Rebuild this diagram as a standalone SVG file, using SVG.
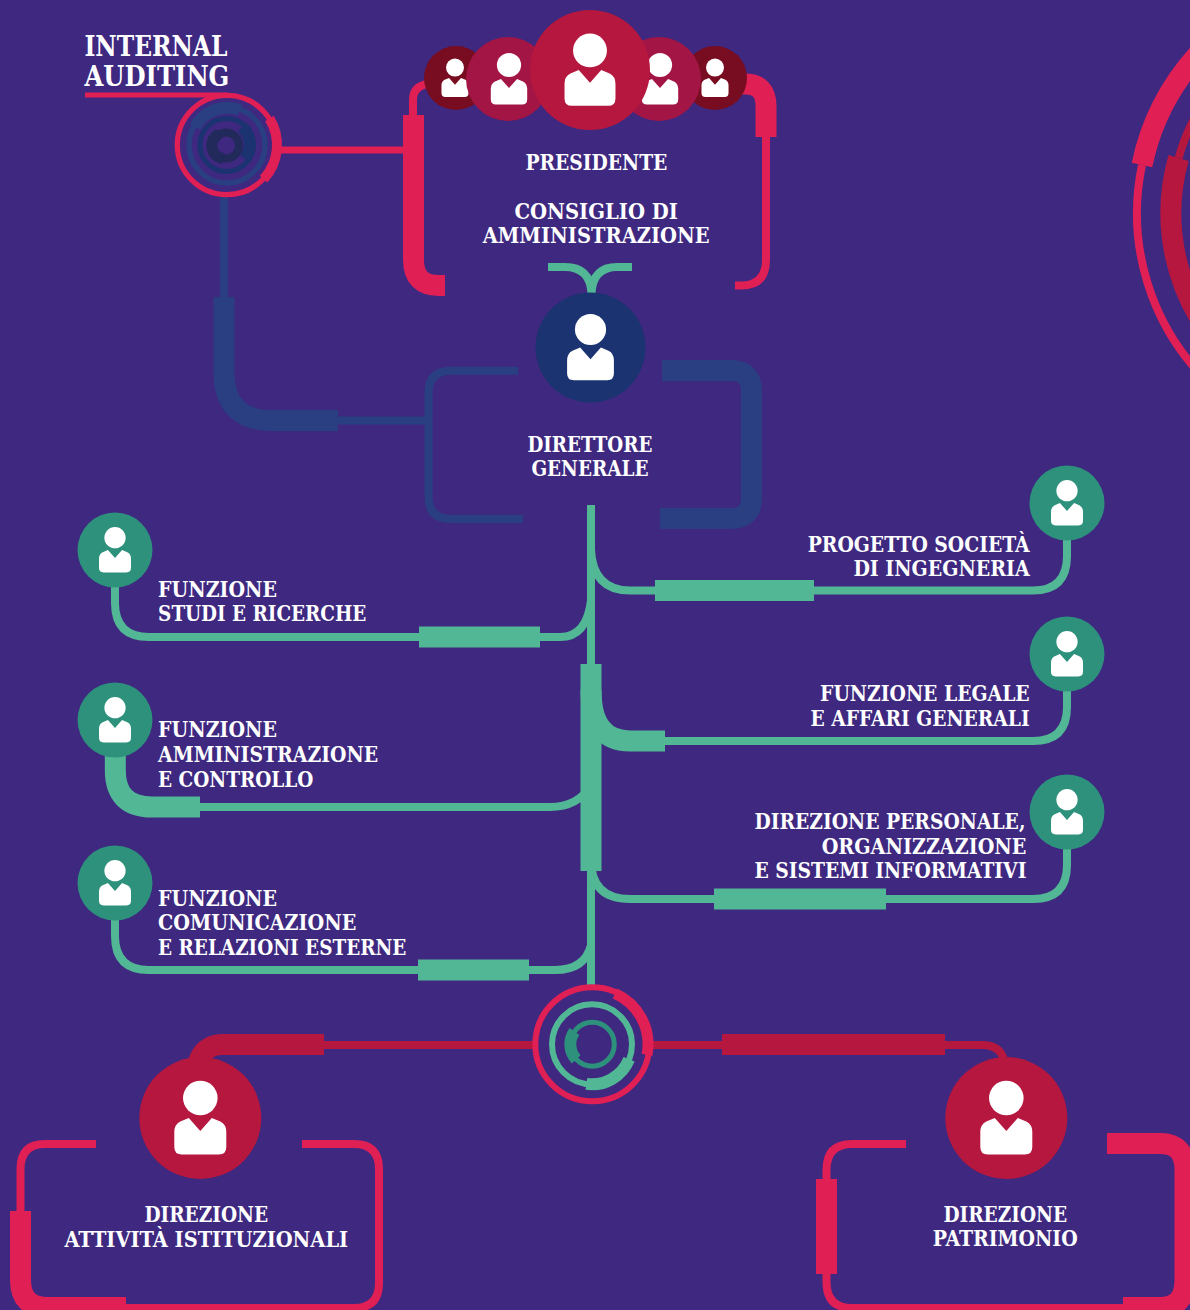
<svg xmlns="http://www.w3.org/2000/svg" width="1190" height="1310" viewBox="0 0 1190 1310">
<style>
.r{fill:none;stroke:#e01f55}
.c{fill:none;stroke:#b5173f}
.b{fill:none;stroke:#2a3f82}
.n{fill:none;stroke:#1b3370}
.g{fill:none;stroke:#52b795}
.t{fill:none;stroke:#2d917c}
.w8{stroke-width:8}
.w21{stroke-width:21}
text{font-family:"DejaVu Serif","Liberation Serif",serif;font-weight:700;font-stretch:condensed;font-size:22.5px;fill:#fff;transform:translate(-.6px,-.8px)}
</style>
<defs>
<g id="person" fill="#fff">
<circle cx="0" cy="-20" r="17.3"/>
<path d="M-11.5,0L0,13L11.5,0L20,3.5Q26,6.5 26,14V29Q26,36.5 18.500,36.500H-18.500Q-26,36.500 -26,29V14Q-26,6.500 -20,3.500Z"/>
</g>
</defs>
<rect width="1190" height="1310" fill="#3e2880"/>
<g id="decoration">
<path class="r w8" d="M1142,165A236,236 0 0 0 1209,383"/>
<path class="r w21" d="M1142,165A236,236 0 0 1 1200,52.500"/>
<path class="c w8" d="M1178.600,158A202,202 0 0 1 1218,83"/>
<path class="c w21" d="M1178.600,158A202,202 0 0 0 1218,343"/>
</g>
<g id="connectors">
<path class="r" stroke-width="5" d="M85,95H228"/>
<path class="r" stroke-width="7" d="M280,150H405"/>
<path class="r w8" d="M413,115V100Q413,86 428,84"/>
<path class="r w21" d="M413.500,115V260Q413.500,285.500 439,285.500H445"/>
<path class="r w21" d="M740,84H745Q766,84 766,106V137"/>
<path class="r w8" d="M766,137V260Q766,285.500 741,285.500H735"/>
<path class="g w8" d="M548,267H565Q590,267 591.500,293M632,267H617Q593,267 591.500,293"/>
<path class="b w8" d="M224,195V297"/>
<path class="b w21" d="M224,297V372Q224,420.500 272,420.500H338"/>
<path class="b w8" d="M338,420.500H428"/>
<path class="b w8" d="M518,370.700H451Q428.500,370.700 428.500,393V497Q428.500,519 451,519H523"/>
<path class="b w21" d="M662,370.500H731Q751.500,370.500 751.500,391V498Q751.500,518.500 731,518.500H660"/>
<path class="g w8" d="M591,505V990"/>
<path class="g w8" d="M591,550Q593,590.500 630,590.500H1033Q1067,590.500 1067,556V530"/>
<path class="g w21" d="M655,590.500H814"/>
<path class="g w21" d="M591,690Q591,741 630,741H665"/>
<path class="g w8" d="M665,741H1033Q1067,741 1067,707V680"/>
<path class="g w8" d="M591,860Q591,899 630,899H1033Q1067,899 1067,865V840"/>
<path class="g w21" d="M714,899H886"/>
<path class="g w8" d="M115,580V603Q115,637 149,637H560Q587,637 591,600"/>
<path class="g w21" d="M419,637H540"/>
<path class="g w21" d="M115.300,750V770Q115.300,807 152,807H200"/>
<path class="g w8" d="M200,807H550Q578,807 591,785"/>
<path class="g w8" d="M115,915V936Q115,970 149,970H555Q585,970 591,945"/>
<path class="g w21" d="M418,970H529"/>
<path class="g w21" d="M591,664V871"/>
<path class="c w8" d="M324,1045H536M650,1045H722"/>
<path class="c w21" d="M198,1065C200,1052 210,1044.500 222,1044.500H324"/>
<path class="c w21" d="M722,1044.500H945"/>
<path class="c w8" d="M945,1045H982Q1000,1045 1004,1060"/>
<path class="r w8" d="M96,1144H45Q20.500,1144 20.500,1169V1215"/>
<path class="r w21" d="M20.500,1211V1280Q20.500,1307.500 48,1307.500H126"/>
<path class="r w8" d="M302,1144H354Q379,1144 379,1169V1283Q379,1308 354,1308H100"/>
<path class="r w8" d="M906,1144H852Q826.500,1144 826.500,1170V1282Q826.500,1308 852,1308H1130"/>
<path class="r w21" d="M826.500,1179V1274"/>
<path class="r w21" d="M1107,1143.500H1160Q1185,1143.500 1185,1170V1280Q1185,1307.500 1160,1307.500H1123"/>
</g>
<g id="internal-auditing">
<circle class="r" stroke-width="5.300" cx="227" cy="145" r="49.700"/>
<path class="r" stroke-width="10" d="M269.400,118.500A50,50 0 0 1 263.600,179.100"/>
<circle class="b" stroke-width="5.500" cx="227" cy="145" r="38"/>
<path class="b" stroke-width="12" d="M195,127A37,37 0 0 1 240,110"/>
<circle class="n" stroke-width="5" cx="226.500" cy="145" r="26.500"/>
<path class="n" stroke-width="12" d="M242,127A23.500,23.500 0 0 1 245,159"/>
<circle fill="none" stroke="#222a5c" stroke-width="8" cx="226" cy="145.500" r="13"/>
<path fill="none" stroke="#222a5c" stroke-width="11" d="M223,158.500A13,13 0 0 1 219,134"/>
<text x="85" y="56.700" style="font-size:27px" textLength="143" lengthAdjust="spacingAndGlyphs">INTERNAL</text>
<text x="85" y="87" style="font-size:27px" textLength="145" lengthAdjust="spacingAndGlyphs">AUDITING</text>
</g>
<g id="presidente">
<circle cx="456" cy="78" r="32" fill="#780c20"/><use href="#person" transform="translate(455,78) scale(.52)"/>
<circle cx="715" cy="78" r="32" fill="#780c20"/><use href="#person" transform="translate(715,78) scale(.52)"/>
<circle cx="508" cy="79" r="42" fill="#a31545"/><use href="#person" transform="translate(509,79) scale(.7)"/>
<circle cx="659" cy="79" r="42" fill="#a31545"/><use href="#person" transform="translate(660,79) scale(.7)"/>
<circle cx="590" cy="70" r="60" fill="#b5173f"/><use href="#person" transform="translate(590,70) scale(.98)"/>
<text x="526" y="170.700" textLength="142" lengthAdjust="spacingAndGlyphs">PRESIDENTE</text>
<text x="515" y="219.500" textLength="163.500" lengthAdjust="spacingAndGlyphs">CONSIGLIO DI</text>
<text x="483.300" y="244.300" textLength="227" lengthAdjust="spacingAndGlyphs">AMMINISTRAZIONE</text>
</g>
<g id="direttore-generale">
<circle cx="590.500" cy="347.500" r="55" fill="#1b3370"/><use href="#person" transform="translate(590.500,347.500) scale(.9)"/>
<text x="528" y="452.700" textLength="125" lengthAdjust="spacingAndGlyphs">DIRETTORE</text>
<text x="532" y="476.700" textLength="117" lengthAdjust="spacingAndGlyphs">GENERALE</text>
</g>
<g id="funzione-studi">
<circle cx="115" cy="550" r="37.500" fill="#2d917c"/><use href="#person" transform="translate(115,550) scale(.615)"/>
<text x="158.700" y="597.700" textLength="119" lengthAdjust="spacingAndGlyphs">FUNZIONE</text>
<text x="158.700" y="621.700" textLength="208.300" lengthAdjust="spacingAndGlyphs">STUDI E RICERCHE</text>
</g>
<g id="funzione-amministrazione">
<circle cx="115" cy="720" r="37.500" fill="#2d917c"/><use href="#person" transform="translate(115,720) scale(.615)"/>
<text x="158.700" y="738" textLength="119" lengthAdjust="spacingAndGlyphs">FUNZIONE</text>
<text x="158.700" y="763.300" textLength="220" lengthAdjust="spacingAndGlyphs">AMMINISTRAZIONE</text>
<text x="158.700" y="788.300" textLength="155.300" lengthAdjust="spacingAndGlyphs">E CONTROLLO</text>
</g>
<g id="funzione-comunicazione">
<circle cx="115" cy="883" r="37.500" fill="#2d917c"/><use href="#person" transform="translate(115,883) scale(.615)"/>
<text x="158.700" y="906.500" textLength="119" lengthAdjust="spacingAndGlyphs">FUNZIONE</text>
<text x="158.700" y="931" textLength="198.300" lengthAdjust="spacingAndGlyphs">COMUNICAZIONE</text>
<text x="158.700" y="955.500" textLength="248.300" lengthAdjust="spacingAndGlyphs">E RELAZIONI ESTERNE</text>
</g>
<g id="progetto-societa">
<circle cx="1067" cy="503" r="37.500" fill="#2d917c"/><use href="#person" transform="translate(1067,503) scale(.615)"/>
<text x="808.300" y="553.300" textLength="222" lengthAdjust="spacingAndGlyphs">PROGETTO SOCIETÀ</text>
<text x="854" y="577.300" textLength="176.300" lengthAdjust="spacingAndGlyphs">DI INGEGNERIA</text>
</g>
<g id="funzione-legale">
<circle cx="1067" cy="654" r="37.500" fill="#2d917c"/><use href="#person" transform="translate(1067,654) scale(.615)"/>
<text x="820.700" y="701.700" textLength="209.600" lengthAdjust="spacingAndGlyphs">FUNZIONE LEGALE</text>
<text x="811" y="726.700" textLength="219.300" lengthAdjust="spacingAndGlyphs">E AFFARI GENERALI</text>
</g>
<g id="direzione-personale">
<circle cx="1067" cy="812" r="37.500" fill="#2d917c"/><use href="#person" transform="translate(1067,812) scale(.615)"/>
<text x="755" y="830" textLength="271" lengthAdjust="spacingAndGlyphs">DIREZIONE PERSONALE,</text>
<text x="822.300" y="855" textLength="204.700" lengthAdjust="spacingAndGlyphs">ORGANIZZAZIONE</text>
<text x="755" y="879.300" textLength="272" lengthAdjust="spacingAndGlyphs">E SISTEMI INFORMATIVI</text>
</g>
<g id="hub">
<circle class="r" stroke-width="6" cx="592.300" cy="1044.300" r="57"/>
<path class="r" stroke-width="11" d="M615,993.400A55.700,55.700 0 0 1 647,1054.900"/>
<circle class="g" stroke-width="6" cx="592" cy="1044.300" r="40"/>
<path class="g" stroke-width="12" d="M629.100,1059.300A40,40 0 0 1 586.400,1083.900"/>
<circle class="t" stroke-width="5" cx="592.300" cy="1044.300" r="22"/>
<path class="t" stroke-width="12" d="M576.200,1059.300A22,22 0 0 1 574.500,1031.400"/>
</g>
<g id="direzione-attivita">
<circle cx="200.300" cy="1118" r="61" fill="#b5173f"/><use href="#person" transform="translate(200.300,1118)"/>
<text x="145" y="1223.300" textLength="123.700" lengthAdjust="spacingAndGlyphs">DIREZIONE</text>
<text x="65" y="1247.700" textLength="283.700" lengthAdjust="spacingAndGlyphs">ATTIVITÀ ISTITUZIONALI</text>
</g>
<g id="direzione-patrimonio">
<circle cx="1006.300" cy="1118" r="61" fill="#b5173f"/><use href="#person" transform="translate(1006.300,1118)"/>
<text x="944" y="1223" textLength="123.700" lengthAdjust="spacingAndGlyphs">DIREZIONE</text>
<text x="933.300" y="1247.300" textLength="145" lengthAdjust="spacingAndGlyphs">PATRIMONIO</text>
</g>
</svg>
